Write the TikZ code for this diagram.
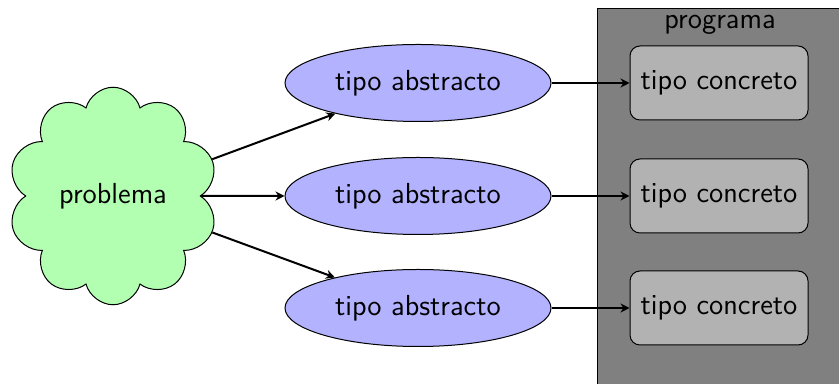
\documentclass[tikz,border=0pt]{standalone}
\usetikzlibrary{shapes.symbols,shapes.geometric,arrows.meta}
\begin{document}
\begin{tikzpicture}[x=0.4pt,y=-0.4pt,font=\sffamily\fontsize{11.6}{14}\selectfont,
  cloudnode/.style={cloud,cloud puffs=10,draw,fill=green!30,minimum width=84pt,minimum height=87pt,inner sep=0pt},
  absnode/.style={ellipse,draw,fill=blue!30,minimum width=106.4pt,minimum height=30.8pt,inner sep=0pt},
  concnode/.style={rectangle,rounded corners=4pt,draw,fill=black!30,minimum width=71.2pt,minimum height=29.6pt,inner sep=0pt},
  arr/.style={thick,-{Stealth[length=3.6pt,width=3.6pt]}}]
\clip (0,0) rectangle (839,384);
\node[draw,fill=black!50,minimum width=110pt,minimum height=160pt,anchor=north west] (prog) at (597,8) {};
\node (progl) at (720,25) {programa};
\node[cloudnode] (p) at (113,196) {problema};
\node[absnode] (a1) at (418,83) {tipo abstracto};
\node[absnode] (a2) at (418,196) {tipo abstracto};
\node[absnode] (a3) at (418,308) {tipo abstracto};
\node[concnode] (c1) at (719,83) {tipo concreto};
\node[concnode] (c2) at (719,196) {tipo concreto};
\node[concnode] (c3) at (719,308) {tipo concreto};
\draw[arr] (p) -- (a1);
\draw[arr] (p) -- (a2);
\draw[arr] (p) -- (a3);
\draw[arr] (a1) -- (c1);
\draw[arr] (a2) -- (c2);
\draw[arr] (a3) -- (c3);
\end{tikzpicture}
\end{document}
